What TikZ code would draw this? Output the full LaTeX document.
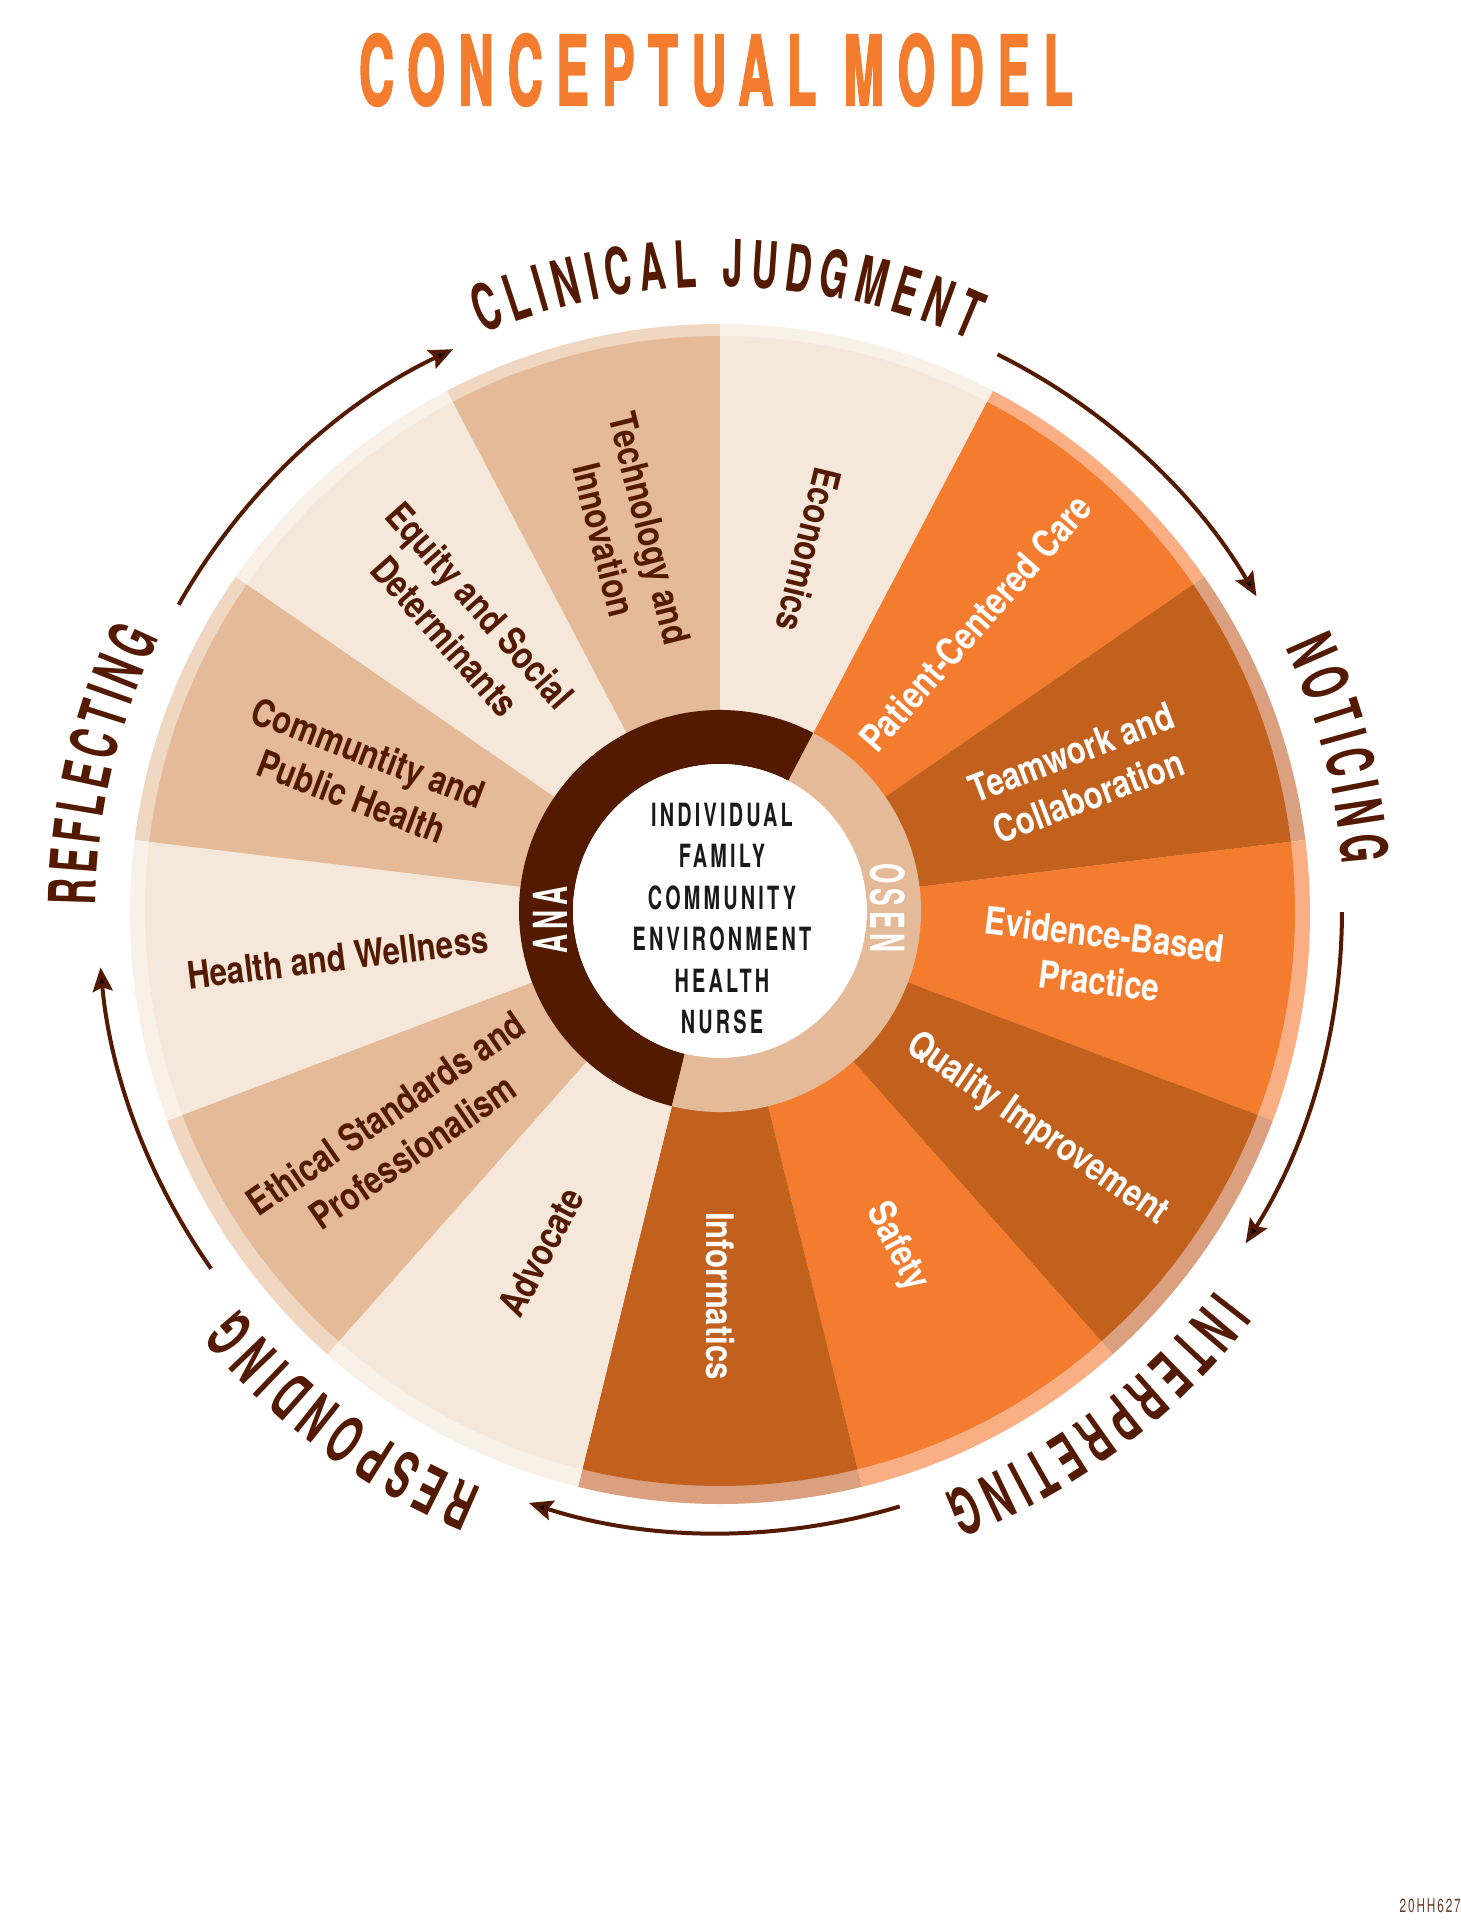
\documentclass[tikz,border=0pt]{standalone}
\usepackage{fontspec}
\setmainfont{TeX Gyre Heros}
\newfontfamily\ttlfont{TeX Gyre Heros}[FakeStretch=0.5, LetterSpace=14, FakeBold=1.5]
\newfontfamily\outfont{TeX Gyre Heros}[FakeStretch=0.56]
\newfontfamily\segfont{TeX Gyre Heros}[FakeStretch=0.82]
\newfontfamily\ctrfont{TeX Gyre Heros}[FakeStretch=0.62, LetterSpace=10]
\newfontfamily\hubfont{TeX Gyre Heros}[FakeStretch=0.56, LetterSpace=10]
\usetikzlibrary{decorations.text,arrows.meta}
\definecolor{cCream}{HTML}{F5E8DA}
\definecolor{cCreamRim}{HTML}{F9F0E7}
\definecolor{cTan}{HTML}{E4BA98}
\definecolor{cTanRim}{HTML}{EFD7C2}
\definecolor{cOrange}{HTML}{F47C2F}
\definecolor{cOrangeRim}{HTML}{F9AF83}
\definecolor{cDark}{HTML}{C2601D}
\definecolor{cDarkRim}{HTML}{DBA07F}
\definecolor{cBrown}{HTML}{541A00}
\definecolor{cCode}{HTML}{6A3A28}
\definecolor{cInk}{HTML}{1A1A1A}
\begin{document}
\begin{tikzpicture}[x=1pt,y=1pt,
  seglabel/.style={font=\segfont\bfseries\fontsize{38}{47}\selectfont, align=center, inner sep=0},
  outlabel/.style={decorate, decoration={text along path, text align={fit to path}, text color=cBrown}},
  cycarrow/.style={draw=cBrown, line width=4pt, -{Stealth[length=24pt, width=20pt, inset=4pt]}}]
\useasboundingbox (-720,-1009) rectangle (741,911);
\fill[white] (-720,-1009) rectangle (741,911);
% title
\node[font=\ttlfont\bfseries\fontsize{97}{97}\selectfont, text=cOrange, inner sep=0] (title) at (-4,841) {CONCEPTUAL MODEL};
% rim
\begin{scope}
\clip (0,-3) circle[radius=590];
\foreach \k/\rc in {0/cCreamRim,1/cOrangeRim,2/cDarkRim,3/cOrangeRim,4/cDarkRim,5/cOrangeRim,6/cDarkRim,7/cCreamRim,8/cTanRim,9/cCreamRim,10/cTanRim,11/cCreamRim,12/cTanRim}{
  \pgfmathsetmacro\aa{90-\k*360/13}
  \pgfmathsetmacro\ab{90-(\k+1)*360/13}
  \fill[\rc] (0,0) -- (\aa:640) arc[start angle=\aa, end angle=\ab, radius=640] -- cycle;
}
\end{scope}
% segments
\foreach \k/\fc in {0/cCream,1/cOrange,2/cDark,3/cOrange,4/cDark,5/cOrange,6/cDark,7/cCream,8/cTan,9/cCream,10/cTan,11/cCream,12/cTan}{
  \pgfmathsetmacro\aa{90-\k*360/13}
  \pgfmathsetmacro\ab{90-(\k+1)*360/13}
  \fill[\fc] (0,0) -- (\aa:575) arc[start angle=\aa, end angle=\ab, radius=575] -- cycle;
}
% hub
\fill[cBrown] (62.3077:201) arc[start angle=62.3077, end angle=256.1538, radius=201] -- (256.1538:147) arc[start angle=256.1538, end angle=62.3077, radius=147] -- cycle;
\fill[cTan] (-103.8462:201) arc[start angle=-103.8462, end angle=62.3077, radius=201] -- (62.3077:147) arc[start angle=62.3077, end angle=-103.8462, radius=147] -- cycle;
\fill[white] (0,0) circle[radius=147];
\node[font=\hubfont\bfseries\fontsize{47}{47}\selectfont, text=white, rotate=90, inner sep=0] (ana) at (-170,-9) {ANA};
\node[font=\hubfont\bfseries\fontsize{47}{47}\selectfont, text=white, rotate=-90, inner sep=0] (osen) at (168,3) {OSEN};
\node[font=\ctrfont\bfseries\fontsize{32}{41.4}\selectfont, align=center, inner sep=0, text=cInk] (ctr) at (2,-7.5)
  {INDIVIDUAL\\FAMILY\\COMMUNITY\\ENVIRONMENT\\HEALTH\\NURSE};
% segment labels
\foreach \k/\txt/\tc/\fl/\rr in {
 0/{Economics}/cBrown/180/372,
 1/{Patient-Centered Care}/white/0/385,
 2/{Teamwork and\\Collaboration}/white/0/385,
 3/{Evidence-Based\\Practice}/white/0/385,
 4/{Quality Improvement}/white/0/385,
 5/{Safety}/white/0/380,
 6/{Informatics}/white/0/385,
 7/{Advocate}/cBrown/180/385,
 8/{Ethical Standards and\\Professionalism}/cBrown/180/390,
 9/{Health and Wellness}/cBrown/180/385,
 10/{Communtity and\\Public Health}/cBrown/180/385,
 11/{Equity and Social\\Determinants}/cBrown/180/388,
 12/{Technology and\\Innovation}/cBrown/180/388}{
  \pgfmathsetmacro\ac{90-(\k+0.5)*360/13}
  \pgfmathsetmacro\rt{\ac+\fl}
  \node[seglabel, text=\tc, rotate=\rt] (lab\k) at (\ac:\rr) {\txt};
}
% outer labels
\path[outlabel, decoration={text={|\outfont\bfseries\fontsize{65}{65}\selectfont|CLINICAL JUDGMENT}}] (112.4:624) arc[start angle=112.4, end angle=66.3, radius=624];
\path[outlabel, decoration={text={|\outfont\bfseries\fontsize{65}{65}\selectfont|NOTICING}}] (25:624) arc[start angle=25, end angle=4.3, radius=624];
\path[outlabel, decoration={text={|\outfont\bfseries\fontsize{65}{65}\selectfont|INTERPRETING}}] (-37.5:624) arc[start angle=-37.5, end angle=-69, radius=624];
\path[outlabel, decoration={text={|\outfont\bfseries\fontsize{65}{65}\selectfont|RESPONDING}}] (-112.4:624) arc[start angle=-112.4, end angle=-140.5, radius=624];
\path[outlabel, decoration={text={|\outfont\bfseries\fontsize{65}{65}\selectfont|REFLECTING}}] (179.5:624) arc[start angle=179.5, end angle=154, radius=624];
% cycle arrows
\coordinate (a1s) at (63.5:622);
\draw[cycarrow] (a1s) arc[start angle=63.5, end angle=30.4, radius=622];
\coordinate (a2s) at (-0.1:622);
\draw[cycarrow] (a2s) arc[start angle=-0.1, end angle=-32.3, radius=622];
\coordinate (a3s) at (-73.2:622);
\draw[cycarrow] (a3s) arc[start angle=-73.2, end angle=-107.9, radius=622];
\coordinate (a4s) at (-144.9:622);
\draw[cycarrow] (a4s) arc[start angle=-144.9, end angle=-174.8, radius=622];
\coordinate (a5s) at (150.5:622);
\draw[cycarrow] (a5s) arc[start angle=150.5, end angle=115.4, radius=622];
% code
\node[font=\ctrfont\fontsize{19}{19}\selectfont, text=cCode, anchor=base east, inner sep=0] (code) at (741,-1001) {20HH627};
\end{tikzpicture}
\end{document}
